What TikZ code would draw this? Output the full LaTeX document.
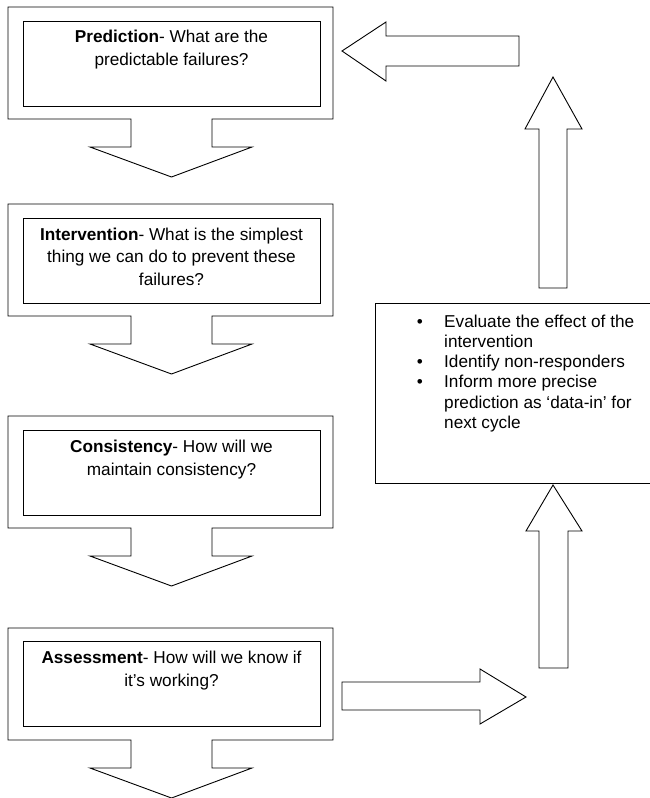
\documentclass[tikz,border=0pt]{standalone}
\usepackage{fontspec}
\setmainfont{Liberation Sans}
\begin{document}
\begin{tikzpicture}[x=1pt,y=-1pt,
  shapeline/.style={draw=black,line width=0.9pt,line join=miter},
  innerbox/.style={draw=black,line width=0.9pt,rectangle,minimum width=297pt,minimum height=85pt,inner sep=0pt},
  boxtext/.style={anchor=base,inner sep=0pt,font=\fontsize{17.2}{22.7}\selectfont},
  bullettext/.style={anchor=base west,inner sep=0pt,font=\fontsize{17.2}{20}\selectfont},
  bulletmark/.style={anchor=base,inner sep=0pt,font=\fontsize{17.2}{20}\selectfont},
  callout/.pic={\draw[shapeline] (8,0) -- (333,0) -- (333,112) -- (212,112) -- (212,140) -- (252,140) -- (171.5,170) -- (90,140) -- (131,140) -- (131,112) -- (8,112) -- cycle;}
]
\useasboundingbox (0,0) rectangle (650,798);
\clip (0,0) rectangle (650,798);

% block 1
\pic at (0,7) {callout};
\node[innerbox] (predbox) at (171.5,63.5) {};
\node[boxtext] (pred1) at (171.5,42.8) {\textbf{Prediction}- What are the};
\node[boxtext] (pred2) at (171.5,65.5) {predictable failures?};

% block 2
\pic at (0,204) {callout};
\node[innerbox] (intbox) at (171.5,260.5) {};
\node[boxtext] (int1) at (171.5,240) {\textbf{Intervention}- What is the simplest};
\node[boxtext] (int2) at (171.5,262.6) {thing we can do to prevent these};
\node[boxtext] (int3) at (171.5,285.2) {failures?};

% block 3
\pic at (0,416) {callout};
\node[innerbox] (conbox) at (171.5,472.5) {};
\node[boxtext] (con1) at (171.5,452.7) {\textbf{Consistency}- How will we};
\node[boxtext] (con2) at (171.5,475.6) {maintain consistency?};

% block 4
\pic at (0,628) {callout};
\node[innerbox] (assbox) at (171.5,684) {};
\node[boxtext] (ass1) at (171.5,663.3) {\textbf{Assessment}- How will we know if};
\node[boxtext] (ass2) at (171.5,686) {it’s working?};

% evaluation box (right edge outside the picture)
\draw[shapeline] (660,303) -- (375,303) -- (375,483) -- (660,483);
\node[bulletmark] (b1) at (420,327.3) {•};
\node[bullettext] (e1) at (444,327.3) {Evaluate the effect of the};
\node[bullettext] (e2) at (444,347.5) {intervention};
\node[bulletmark] (b2) at (420,367.7) {•};
\node[bullettext] (e3) at (444,367.7) {Identify non-responders};
\node[bulletmark] (b3) at (420,387.9) {•};
\node[bullettext] (e4) at (444,387.9) {Inform more precise};
\node[bullettext] (e5) at (444,408.1) {prediction as ‘data-in’ for};
\node[bullettext] (e6) at (444,428.3) {next cycle};

% block arrows
\draw[shapeline] (342,51) -- (386,22) -- (386,36) -- (519,36) -- (519,66) -- (386,66) -- (386,81) -- cycle;
\draw[shapeline] (553,77) -- (582,129) -- (567,129) -- (567,288) -- (539,288) -- (539,129) -- (525,129) -- cycle;
\draw[shapeline] (553,485) -- (582,531) -- (568,531) -- (568,668) -- (539,668) -- (539,531) -- (526,531) -- cycle;
\draw[shapeline] (526,697) -- (480,724) -- (480,710) -- (342,710) -- (342,682) -- (480,682) -- (480,669) -- cycle;
\end{tikzpicture}
\end{document}
